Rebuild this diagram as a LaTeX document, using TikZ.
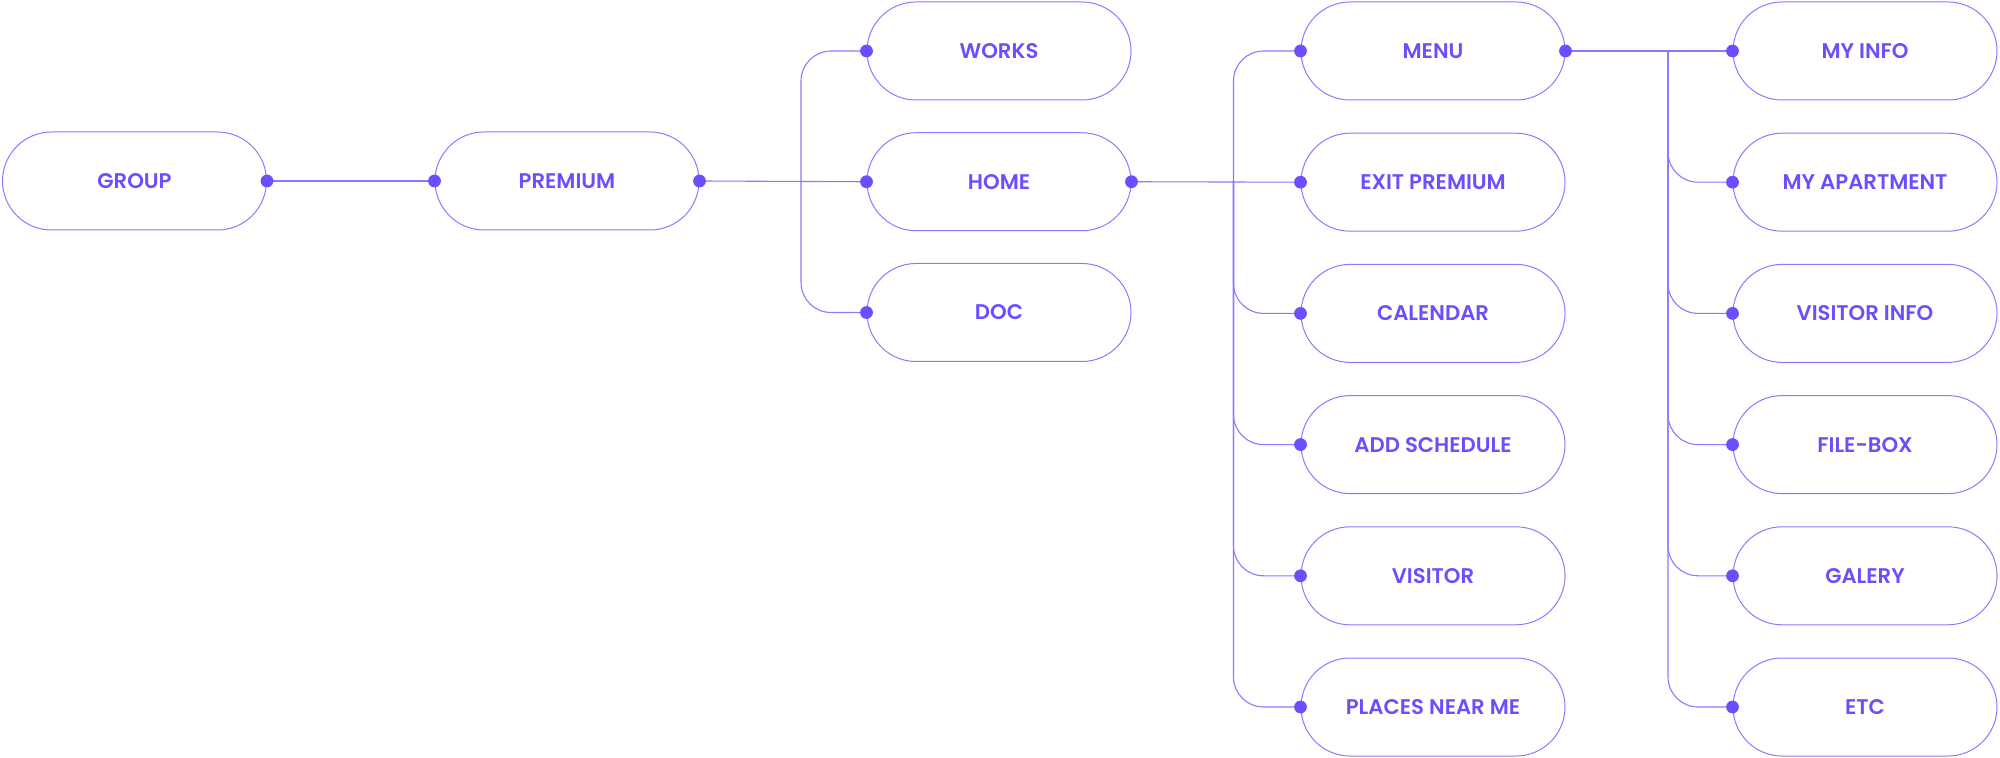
\documentclass[tikz,border=0pt]{standalone}
\usepackage{fontspec}
\setmainfont{Poppins}[BoldFont={Poppins SemiBold}]
\definecolor{ink}{RGB}{108,78,255}
\definecolor{wire}{RGB}{138,122,255}
\begin{document}
\begin{tikzpicture}
      [x=0.5pt, y=-0.5pt,
      page/.style={rectangle, rounded corners=24.5pt, draw=wire, line width=0.5pt,
        minimum width=132pt, minimum height=49pt, text=ink,
        font=\fontsize{10.6pt}{12pt}\selectfont\bfseries},
      link/.style={draw=wire, line width=0.55pt},
      branch/.style={link, rounded corners=15pt},
      dot/.style={fill=ink},
      ]
      \useasboundingbox (0,0) rectangle (2000,758);
      % first levels
      \node[page] (group) at (134.5,181) {GROUP};
      \node[page] (premium) at (567,181) {PREMIUM};
      \foreach \name/\txt [count=\i from 0] in {works/WORKS, home/HOME, doc/DOC}
        \node[page] (\name) at (999,51+130.75*\i) {\txt};
      % home menu
      \foreach \name/\txt [count=\i from 0] in {menu/MENU, exit/EXIT PREMIUM,
          calendar/CALENDAR, schedule/ADD SCHEDULE, visitor/VISITOR, places/PLACES NEAR ME}
        \node[page] (\name) at (1433,51+131.2*\i) {\txt};
      % side menu
      \foreach \name/\txt [count=\i from 0] in {myinfo/MY INFO, apartment/MY APARTMENT,
          visitorinfo/VISITOR INFO, filebox/FILE-BOX, galery/GALERY, etc/ETC}
        \node[page] (\name) at (1865,51+131.2*\i) {\txt};

      \coordinate (hubA) at (801,181);
      \coordinate (hubB) at (1233.5,181);
      \coordinate (hubC) at (1668,51);

      \draw[link] (group.east) -- (premium.west);
      \draw[link] (premium.east) -- (home.west);
      \foreach \to in {works, doc}
        \draw[branch] (hubA) |- (\to.west);
      \draw[link] (home.east) -- (exit.west);
      \foreach \to in {menu, calendar, schedule, visitor, places}
        \draw[branch] (hubB) |- (\to.west);
      \draw[link] (menu.east) -- (myinfo.west);
      \foreach \to in {apartment, visitorinfo, filebox, galery, etc}
        \draw[branch] (hubC) |- (\to.west);

      % dots
      \foreach \at in {group.east, premium.west, premium.east, works.west, home.west,
          doc.west, home.east, menu.east}
        \fill[dot] (\at) circle (3.2pt);
      \foreach \to in {menu, exit, calendar, schedule, visitor, places,
          myinfo, apartment, visitorinfo, filebox, galery, etc}
        \fill[dot] (\to.west) circle (3.2pt);
      \end{tikzpicture}
\end{document}
